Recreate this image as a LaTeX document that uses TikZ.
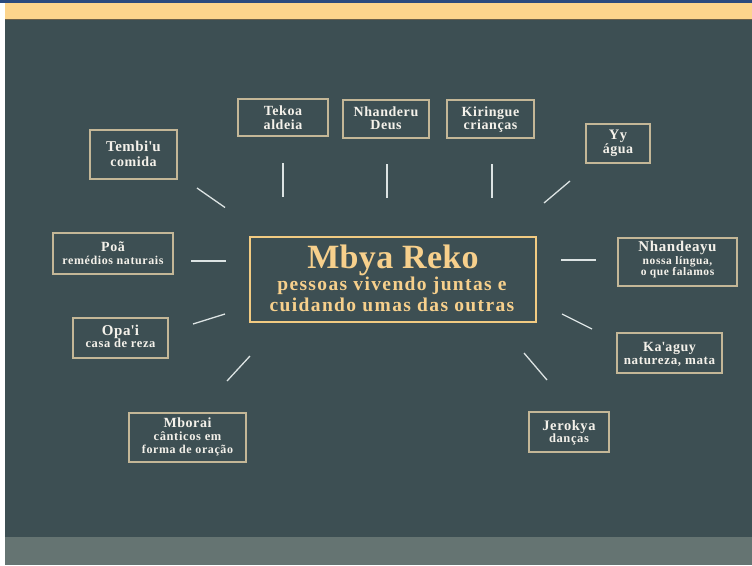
\documentclass[tikz,border=0pt]{standalone}
\usepackage{fontspec}
\setmainfont{Liberation Serif}
\usepackage{xcolor}
\definecolor{bgdark}{HTML}{3D4F53}
\definecolor{topblue}{HTML}{2B4A7E}
\definecolor{bandyellow}{HTML}{FDD48C}
\definecolor{bandedge}{HTML}{6B5F4A}
\definecolor{bottomgray}{HTML}{657472}
\definecolor{boxedge}{HTML}{C4B797}
\definecolor{boxtext}{HTML}{F4F1EA}
\definecolor{centeredge}{HTML}{F2CB82}
\definecolor{centertext}{HTML}{F7D08C}
\definecolor{spokecol}{HTML}{DCE3E3}
\newcommand\fs[2]{\bfseries\addfontfeatures{LetterSpace=#2}\fontsize{#1}{#1}\selectfont}
\begin{document}
\begin{tikzpicture}[x=1pt,y=-1pt,
  smallbox/.style={draw=boxedge, line width=1.6pt, inner sep=0pt, outer sep=0pt},
  centerbox/.style={draw=centeredge, line width=2pt, inner sep=0pt, outer sep=0pt},
  btxt/.style={text=boxtext, anchor=base, inner sep=0pt},
  ctxt/.style={text=centertext, anchor=base, inner sep=0pt},
  spoke/.style={draw=spokecol, line width=1.3pt}]
\useasboundingbox (0,0) rectangle (752,565);
% background bands
\fill[white] (0,0) rectangle (752,565);
\fill[bgdark] (5,19) rectangle (752,537);
\fill[bandyellow] (5,2.5) rectangle (752,19);
\fill[bandedge] (5,19) rectangle (752,20.2);
\fill[topblue] (0,0) rectangle (752,2.5);
\fill[bottomgray] (5,537) rectangle (752,565);

% center
\node[centerbox, minimum width=286pt, minimum height=85pt] (center) at (393,279.5) {};
\node[ctxt, font={\fs{34}{1}}] (ctitle) at (393,268.5) {Mbya Reko};
\node[ctxt, font={\fs{19.5}{7}}] (csub1) at (392,290.5) {pessoas vivendo juntas e};
\node[ctxt, font={\fs{19.5}{7}}] (csub2) at (392,311) {cuidando umas das outras};

% boxes
\node[smallbox, minimum width=87pt, minimum height=49pt] (tembiu) at (133.5,154.5) {};
\node[btxt, font={\fs{15}{3}}] (tembiu1) at (133.5,151.7) {Tembi\textquotesingle u};
\node[btxt, font={\fs{14}{4}}] (tembiu2) at (133.5,166) {comida};

\node[smallbox, minimum width=90pt, minimum height=37pt] (tekoa) at (283,117.5) {};
\node[btxt, font={\fs{14}{4}}] (tekoa1) at (283,115.8) {Tekoa};
\node[btxt, font={\fs{14}{4}}] (tekoa2) at (283,129.3) {aldeia};

\node[smallbox, minimum width=86pt, minimum height=38pt] (nhanderu) at (386,119) {};
\node[btxt, font={\fs{14}{4}}] (nhanderu1) at (386,116.7) {Nhanderu};
\node[btxt, font={\fs{14}{4}}] (nhanderu2) at (386,129.8) {Deus};

\node[smallbox, minimum width=87pt, minimum height=38pt] (kiringue) at (490.5,119) {};
\node[btxt, font={\fs{14}{4}}] (kiringue1) at (490.5,116.7) {Kiringue};
\node[btxt, font={\fs{14}{4}}] (kiringue2) at (490.5,129.8) {crianças};

\node[smallbox, minimum width=64pt, minimum height=39pt] (yy) at (618,143.5) {};
\node[btxt, font={\fs{14.5}{4}}] (yy1) at (618,139.3) {Yy};
\node[btxt, font={\fs{14}{4}}] (yy2) at (618,153.3) {água};

\node[smallbox, minimum width=119pt, minimum height=48pt] (nhandeayu) at (677.5,262) {};
\node[btxt, font={\fs{15}{4}}] (nhandeayu1) at (677.5,251.7) {Nhandeayu};
\node[btxt, font={\fs{11.5}{5}}] (nhandeayu2) at (677.5,264) {nossa língua,};
\node[btxt, font={\fs{11.5}{5}}] (nhandeayu3) at (677.5,275.7) {o que falamos};

\node[smallbox, minimum width=120pt, minimum height=41pt] (poa) at (113,253.5) {};
\node[btxt, font={\fs{14}{4}}] (poa1) at (113,251.7) {Poã};
\node[btxt, font={\fs{12}{5}}] (poa2) at (113,264.3) {remédios naturais};

\node[smallbox, minimum width=95pt, minimum height=40pt] (opai) at (120.5,338) {};
\node[btxt, font={\fs{15}{4}}] (opai1) at (120.5,335) {Opa\textquotesingle i};
\node[btxt, font={\fs{12.5}{5}}] (opai2) at (120.5,347.3) {casa de reza};

\node[smallbox, minimum width=117pt, minimum height=49pt] (mborai) at (187.5,437.5) {};
\node[btxt, font={\fs{14}{4}}] (mborai1) at (187.5,427.3) {Mborai};
\node[btxt, font={\fs{12.5}{5}}] (mborai2) at (187.5,440.7) {cânticos em};
\node[btxt, font={\fs{12}{5}}] (mborai3) at (187.5,453.3) {forma de oração};

\node[smallbox, minimum width=105pt, minimum height=40pt] (kaaguy) at (669.5,353) {};
\node[btxt, font={\fs{14}{4}}] (kaaguy1) at (669.5,351.7) {Ka\textquotesingle aguy};
\node[btxt, font={\fs{13}{5}}] (kaaguy2) at (669.5,364) {natureza, mata};

\node[smallbox, minimum width=80pt, minimum height=40pt] (jerokya) at (569,432) {};
\node[btxt, font={\fs{14.5}{4}}] (jerokya1) at (569,430.7) {Jerokya};
\node[btxt, font={\fs{12.5}{5}}] (jerokya2) at (569,442.3) {danças};

% spokes
\coordinate (s1a) at (197,188); \coordinate (s1b) at (225,207.5);
\coordinate (s2a) at (283,163); \coordinate (s2b) at (283,197);
\coordinate (s3a) at (387,164); \coordinate (s3b) at (387,198);
\coordinate (s4a) at (492,164); \coordinate (s4b) at (492,198);
\coordinate (s5a) at (570,181); \coordinate (s5b) at (544,203);
\coordinate (s6a) at (561,260); \coordinate (s6b) at (596,260);
\coordinate (s7a) at (562,314); \coordinate (s7b) at (592,329);
\coordinate (s8a) at (524,353); \coordinate (s8b) at (547,380);
\coordinate (s9a) at (227,381); \coordinate (s9b) at (250,356);
\coordinate (s10a) at (193,324); \coordinate (s10b) at (225,314);
\coordinate (s11a) at (191,261); \coordinate (s11b) at (226,261);
\foreach \i in {1,...,11} { \draw[spoke] (s\i a) -- (s\i b); }
\end{tikzpicture}
\end{document}
